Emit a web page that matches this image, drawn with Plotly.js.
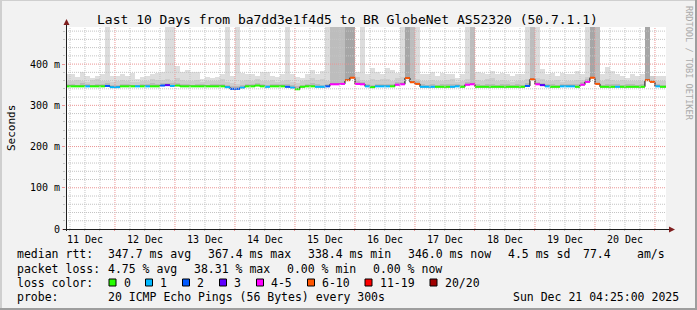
<!DOCTYPE html>
<html><head><meta charset="utf-8">
<script src="https://cdn.plot.ly/plotly-3.0.1.min.js"></script>
<style>html,body{margin:0;padding:0;background:#f2f2f2;}#chart{width:697px;height:310px;}</style>
</head><body><div id="chart"></div>
<script>
// ---- data: 2-hour bins starting 2025-12-11 04:00 UTC ----
const binStart = '2025-12-11 04:00';
const binHours = 2;
const median = [
346,346,346,346,346,346,346,346,347,344,
344,346,346,346,346,346,346,346,346,348,
349,347,348,346,346,346,346,346,346,346,
346,346,344,340,340,343,346,346,348,346,
345,346,346,346,345,343,339,345,346,346,
345,345,346,351,351,352,361,367,352,351,
346,344,346,346,346,346,350,351,366,356,
352,345,345,345,345,345,345,345,346,345,
350,351,345,345,345,345,345,345,345,345,
345,345,347,363,351,349,346,345,345,346,
346,346,345,350,357,367,352,345,345,345,
345,345,345,345,345,345,361,357,346,345,
345];
const loss = [
0,0,0,0,1,0,0,0,2,1,
1,0,0,0,1,0,1,0,0,2,
3,1,0,0,0,0,0,0,0,0,
0,0,1,2,2,1,0,0,0,0,
1,0,0,0,2,1,0,0,0,0,
1,1,2,4,4,5,7,6,4,4,
1,0,1,1,1,0,4,4,7,6,
6,1,1,1,0,0,0,1,1,0,
4,4,0,0,0,0,0,0,0,0,
0,0,2,7,4,3,1,0,0,1,
1,1,0,4,5,7,6,0,0,0,
1,0,0,0,0,0,6,6,1,0,
0];
const smokeHi = [
375,375,369,380,372,366,371,376,376,371,
371,376,371,378,363,369,371,376,378,380,
378,371,395,380,385,380,380,363,369,367,
369,376,376,371,376,378,375,376,372,380,
380,371,369,376,376,376,369,367,376,386,
376,384,380,380,380,380,380,380,380,378,
376,390,382,376,390,385,378,380,380,380,
376,376,376,380,371,378,376,376,367,376,
378,380,380,378,376,384,376,378,376,371,
376,376,380,380,380,387,376,378,371,378,
376,376,384,376,380,380,376,376,392,384,
376,371,367,376,371,376,380,371,371,371,
371];
const smokeMid = [
360,358,362,359,357,361,363,358,360,356,
358,362,359,357,356,360,358,363,361,362,
364,358,366,362,360,358,361,357,359,358,
360,363,357,353,352,358,361,359,363,360,
358,361,357,360,362,356,354,359,361,366,
362,364,360,362,366,366,372,375,368,362,
360,364,361,365,363,360,366,368,373,372,
365,358,360,362,358,360,361,363,357,360,
365,366,361,359,363,366,360,362,359,357,
358,360,364,372,366,363,360,358,362,357,
360,359,362,362,368,375,368,360,365,362,
359,361,358,360,358,360,372,370,360,358,
358];
const smokeDk = [
351,352,350,353,351,350,352,351,353,350,
349,352,351,350,350,352,351,353,351,354,
355,353,354,351,352,350,352,351,350,351,
352,351,349,346,346,349,352,351,354,351,
350,352,351,352,351,349,346,350,352,353,
351,350,352,357,357,358,367,372,358,357,
352,350,352,351,352,351,356,357,371,362,
358,351,350,351,350,351,352,351,352,350,
356,357,351,350,352,351,350,352,351,350,
351,350,353,368,357,355,352,351,350,352,
351,352,351,356,363,372,358,350,352,351,
351,350,352,351,350,351,366,362,352,350,
350];
// smoke spikes reaching beyond the graph: 0 none, 1 few, 2 more, 3 many pings
const spike = [
0,0,0,0,0,0,0,0,1,0,
0,0,0,0,0,0,0,0,0,0,
1,1,0,0,0,0,0,0,0,0,
0,0,1,0,1,0,0,0,0,0,
0,0,0,0,1,0,0,0,0,0,
0,0,1,2,2,2,3,3,0,1,
0,0,0,0,0,0,0,1,3,2,
1,0,0,0,0,0,0,0,0,0,
1,2,0,0,0,0,0,0,0,0,
0,0,1,2,1,0,0,0,0,0,
0,0,0,0,1,3,2,0,0,0,
0,0,0,0,0,0,3,0,0,0,
0];
const spikeMax = 1000; // ms, off the scale
const lossBins = [
  {label:'0',     lo:0,  hi:0,  color:'#26ff00'},
  {label:'1',     lo:1,  hi:1,  color:'#00b8ff'},
  {label:'2',     lo:2,  hi:2,  color:'#0059ff'},
  {label:'3',     lo:3,  hi:3,  color:'#5e00ff'},
  {label:'4-5',   lo:4,  hi:5,  color:'#ff00ff'},
  {label:'6-10',  lo:6,  hi:10, color:'#ff5500'},
  {label:'11-19', lo:11, hi:19, color:'#ff0000'},
  {label:'20/20', lo:20, hi:20, color:'#a00000'}
];
const yTickVals = [0,100,200,300,400];
const yTickText = ['0','100 m','200 m','300 m','400 m'];
const xRange = ['2025-12-11 04:25','2025-12-21 04:25'];
const titleText = 'Last 10 Days from ba7dd3e1f4d5 to BR GlobeNet AS52320 (50.7.1.1)';
const statRows = [
  [['median rtt:',16],['347.7 ms avg',107],['367.4 ms max',207],['338.4 ms min',307],['346.0 ms now',407],['4.5 ms sd',507],['77.4',582],['am/s',636]],
  [['packet loss:',16],['4.75 % avg',107],['38.31 % max',193],['0.00 % min',286],['0.00 % now',372]]
];
const legendBoxX = [109,145.5,182.5,219.5,256.5,307.5,365,430];
const probeText = '20 ICMP Echo Pings (56 Bytes) every 300s';
const dateText = 'Sun Dec 21 04:25:00 2025';

// ---- geometry ----
const W=697,H=310,L=66,R=31,T=27,B=81;
const PW=W-L-R, PH=H-T-B;
const px = x => (x-L)/PW;
const py = y => (H-B-y)/PH;
const FONT = 'DejaVu Sans Mono';
const HOUR = 3600*1000, BIN = binHours*HOUR;
const t0 = Date.parse(binStart.replace(' ','T')+':00Z');
const fmt = t => new Date(t).toISOString().replace('T',' ').replace('Z','');
const times = median.map((_,i)=>t0+i*BIN);
const xs = times.map(fmt);

function barTrace(tops, color, keep){
  const x=[],base=[],y=[];
  tops.forEach((v,i)=>{ if(keep(i)){ x.push(xs[i]); base.push(median[i]); y.push(v-median[i]); }});
  return {type:'bar',x:x,y:y,base:base,width:BIN,offset:0,marker:{color:color,line:{width:0}},hoverinfo:'skip',showlegend:false};
}
const traces=[];
traces.push(barTrace(smokeHi,'#dedede',i=>true));
traces.push(barTrace(median.map(()=>spikeMax),'#dcdcdc',i=>spike[i]===1));
traces.push(barTrace(smokeMid,'#cecece',i=>spike[i]<2));
traces.push(barTrace(smokeDk,'#bababa',i=>spike[i]<2));
traces.push(barTrace(median.map(()=>spikeMax),'#bdbdbd',i=>spike[i]===2));
traces.push(barTrace(median.map(()=>spikeMax),'#a6a6a6',i=>spike[i]===3));
// black step outline of the median
traces.push({type:'scatter',mode:'lines',x:xs.concat([fmt(times[times.length-1]+BIN)]),y:median.concat([median[median.length-1]]),
  line:{shape:'hv',color:'#000',width:1},hoverinfo:'skip',showlegend:false});
// colored median segments by loss
lossBins.forEach(lb=>{
  const x=[],y=[];
  median.forEach((m,i)=>{ if(loss[i]>=lb.lo && loss[i]<=lb.hi){ x.push(xs[i],fmt(times[i]+BIN),null); y.push(m,m,null);} });
  if(x.length) traces.push({type:'scatter',mode:'lines',x:x,y:y,line:{color:lb.color,width:2},hoverinfo:'skip',showlegend:false,connectgaps:false});
});

// ---- grid, frame, axes as shapes ----
const shapes=[];
const tEnd = Date.parse(xRange[1].replace(' ','T')+':00Z');
for(let t=Date.UTC(2025,11,11,6); t<tEnd; t+=6*HOUR){
  const major = new Date(t).getUTCHours()===0;
  shapes.push({type:'line',xref:'x',yref:'paper',x0:fmt(t),x1:fmt(t),y0:0,y1:1,layer:'above',
    line:{color:major?'#eb9595':'#c4c4c4',width:1,dash:'1px,1px'}});
}
for(let v=20; v<490; v+=20){
  const major = v%100===0;
  shapes.push({type:'line',xref:'paper',yref:'y',x0:0,x1:1,y0:v,y1:v,layer:'above',
    line:{color:major?'#eb9595':'#c4c4c4',width:1,dash:'1px,1px'}});
}
// axes
shapes.push({type:'line',xref:'paper',yref:'paper',x0:px(66.5),x1:px(66.5),y0:py(231),y1:py(23),line:{color:'#1f1f1f',width:1}});
shapes.push({type:'line',xref:'paper',yref:'paper',x0:px(63),x1:px(670),y0:py(229.5),y1:py(229.5),line:{color:'#1f1f1f',width:1}});
shapes.push({type:'path',xref:'paper',yref:'paper',path:`M${px(63.5)},${py(25)} L${px(69.5)},${py(25)} L${px(66.5)},${py(19)} Z`,fillcolor:'#7f1f1f',line:{width:0}});
shapes.push({type:'path',xref:'paper',yref:'paper',path:`M${px(669)},${py(226.5)} L${px(669)},${py(232.5)} L${px(675)},${py(229.5)} Z`,fillcolor:'#7f1f1f',line:{width:0}});
// frame
shapes.push({type:'line',xref:'paper',yref:'paper',x0:px(0),x1:px(697),y0:py(0.5),y1:py(0.5),line:{color:'#cfcfcf',width:1}});
shapes.push({type:'line',xref:'paper',yref:'paper',x0:px(1),x1:px(1),y0:py(0),y1:py(310),line:{color:'#cfcfcf',width:2}});
shapes.push({type:'line',xref:'paper',yref:'paper',x0:px(0),x1:px(697),y0:py(309),y1:py(309),line:{color:'#9e9e9e',width:2}});
shapes.push({type:'line',xref:'paper',yref:'paper',x0:px(696),x1:px(696),y0:py(0),y1:py(310),line:{color:'#9e9e9e',width:2}});

// ---- text ----
const ann=[];
const txt=(s,x,y,opt)=>Object.assign({text:s,xref:'paper',yref:'paper',x:px(x),y:py(y),xanchor:'left',yanchor:'middle',showarrow:false,
  font:{family:FONT,size:11.5,color:'#000'},borderpad:0},opt||{});
statRows.forEach((row,r)=>row.forEach(([s,x])=>ann.push(txt(s,x,254.5+14*r))));
ann.push(txt('loss color:',16,282.5));
lossBins.forEach((lb,i)=>{
  const bx=legendBoxX[i];
  shapes.push({type:'rect',xref:'paper',yref:'paper',x0:px(bx),x1:px(bx+7),y0:py(286),y1:py(279),fillcolor:lb.color,line:{color:'#000',width:1}});
  ann.push(txt(lb.label,bx+13.5,282.5));
});
ann.push(txt('probe:',16,296.5));
ann.push(txt(probeText,107,296.5));
ann.push(txt(dateText,680,296.5,{xanchor:'right'}));
ann.push(txt('Seconds',11,128,{xanchor:'center',textangle:-90,font:{family:FONT,size:11,color:'#000'}}));
ann.push(txt('RRDTOOL / TOBI OETIKER',689,63,{xanchor:'center',textangle:90,font:{family:FONT,size:8.6,color:'#aaaaaa'}}));

const layout={
  width:W,height:H,margin:{l:L,r:R,t:T,b:B,pad:0},
  paper_bgcolor:'#f2f2f2',plot_bgcolor:'#ffffff',
  showlegend:false,barmode:'overlay',bargap:0,
  title:{text:titleText,font:{family:FONT,size:13,color:'#000'},xref:'container',x:0.4985,xanchor:'center',yref:'container',y:1-19/H,yanchor:'middle'},
  xaxis:{type:'date',range:xRange,tick0:'2025-12-11 00:00',dtick:86400000,tickformat:'%d %b',ticklabelmode:'period',
    showgrid:false,zeroline:false,showline:false,ticks:'outside',ticklen:1,tickcolor:'#eb9595',
    tickfont:{family:FONT,size:10,color:'#000'},
    minor:{dtick:6*HOUR,tick0:'2025-12-11 00:00',ticks:'outside',ticklen:1,tickcolor:'#c4c4c4',showgrid:false},fixedrange:true},
  yaxis:{range:[0,490],tickvals:yTickVals,ticktext:yTickText,showgrid:false,zeroline:false,showline:false,
    ticks:'outside',ticklen:3,tickcolor:'#eb9595',tickfont:{family:FONT,size:10,color:'#000'},
    minor:{dtick:20,ticks:'outside',ticklen:2,tickcolor:'#c4c4c4',showgrid:false},fixedrange:true},
  shapes:shapes,annotations:ann
};
Plotly.newPlot('chart',traces,layout,{displayModeBar:false,staticPlot:true});
</script></body></html>
